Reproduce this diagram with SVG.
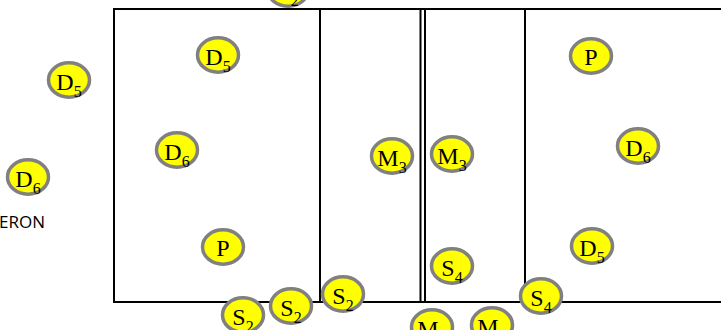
<svg xmlns="http://www.w3.org/2000/svg" width="721" height="330" viewBox="0 0 721 330">
<style>
.n ellipse{fill:#ffff00;stroke:#808080;stroke-width:3.5}
.n text{font-family:"Liberation Serif","Times New Roman",serif;font-size:24px;fill:#000;text-anchor:middle}
.n tspan{font-size:16px}
.ln{stroke:#000;stroke-width:2;fill:none}
.lbl{font-family:"Open Sans","Noto Sans",sans-serif;font-size:17px;fill:#000}
</style>
<defs>
<ellipse id="e" cx="0" cy="0" rx="20.5" ry="17.2"/>
</defs>
<g id="connectors">
<path class="ln" d="M721,9 H114 V302 H721"/>
<path class="ln" d="M320,9 V302 M420.5,9 V302 M425,9 V302 M525,9 V302"/>
</g>
<text class="lbl" x="45" y="228" text-anchor="end">ERON</text>
<g id="n_top" class="n" transform="translate(288,-11)"><ellipse rx="20.5" ry="17.2"/><text y="10">S<tspan dy="7">2</tspan></text></g>
<g id="n_d5_out" class="n" transform="translate(69,80)"><ellipse rx="20.5" ry="17.2"/><text y="10">D<tspan dy="7">5</tspan></text></g>
<g id="n_d6_out" class="n" transform="translate(28,177)"><ellipse rx="20.5" ry="17.2"/><text y="10">D<tspan dy="7">6</tspan></text></g>
<g id="n_d5_a" class="n" transform="translate(218,55)"><ellipse rx="20.5" ry="17.2"/><text y="10">D<tspan dy="7">5</tspan></text></g>
<g id="n_d6_a" class="n" transform="translate(177,150)"><ellipse rx="20.5" ry="17.2"/><text y="10">D<tspan dy="7">6</tspan></text></g>
<g id="n_p_a" class="n" transform="translate(223,247)"><ellipse rx="20.5" ry="17.2"/><text y="9">P</text></g>
<g id="n_s2_a" class="n" transform="translate(243,315)"><ellipse rx="20.5" ry="17.2"/><text y="10">S<tspan dy="7">2</tspan></text></g>
<g id="n_s2_b" class="n" transform="translate(291,306)"><ellipse rx="20.5" ry="17.2"/><text y="10">S<tspan dy="7">2</tspan></text></g>
<g id="n_s2_c" class="n" transform="translate(343,294)"><ellipse rx="20.5" ry="17.2"/><text y="10">S<tspan dy="7">2</tspan></text></g>
<g id="n_m3_a" class="n" transform="translate(392,156)"><ellipse rx="20.5" ry="17.2"/><text y="10">M<tspan dy="7">3</tspan></text></g>
<g id="n_m3_b" class="n" transform="translate(452,154)"><ellipse rx="20.5" ry="17.2"/><text y="10">M<tspan dy="7">3</tspan></text></g>
<g id="n_s4_a" class="n" transform="translate(452,266)"><ellipse rx="20.5" ry="17.2"/><text y="10">S<tspan dy="7">4</tspan></text></g>
<g id="n_s4_b" class="n" transform="translate(541,296)"><ellipse rx="20.5" ry="17.2"/><text y="10">S<tspan dy="7">4</tspan></text></g>
<g id="n_m_a" class="n" transform="translate(432,327)"><ellipse rx="20.5" ry="17.2"/><text y="10">M<tspan dy="7">3</tspan></text></g>
<g id="n_m_b" class="n" transform="translate(492,325)"><ellipse rx="20.5" ry="17.2"/><text y="10">M<tspan dy="7">3</tspan></text></g>
<g id="n_p_b" class="n" transform="translate(591,56)"><ellipse rx="20.5" ry="17.2"/><text y="9">P</text></g>
<g id="n_d6_b" class="n" transform="translate(638,146)"><ellipse rx="20.5" ry="17.2"/><text y="10">D<tspan dy="7">6</tspan></text></g>
<g id="n_d5_b" class="n" transform="translate(592,246)"><ellipse rx="20.5" ry="17.2"/><text y="10">D<tspan dy="7">5</tspan></text></g>
</svg>
